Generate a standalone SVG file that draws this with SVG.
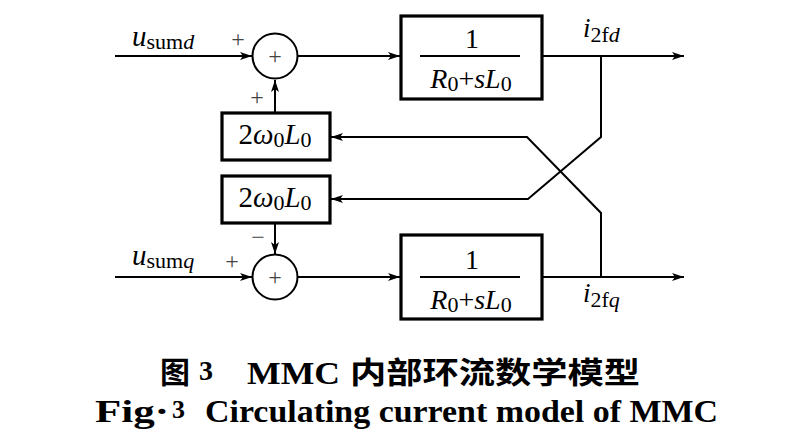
<svg xmlns="http://www.w3.org/2000/svg" width="810" height="448" viewBox="0 0 810 448">
<defs>
<marker id="ah" viewBox="0 0 12 8" refX="12" refY="4" markerWidth="12" markerHeight="8" markerUnits="userSpaceOnUse" orient="auto">
<path d="M0,0 L12,4 L0,8 L3,4 Z" fill="#000"/>
</marker>
</defs>
<style>
.ln{fill:none;stroke:#000;stroke-width:2}
.bx{fill:#fff;stroke:#000;stroke-width:3.2}
.sm{fill:#fff;stroke:#000;stroke-width:2}
text{font-family:'Liberation Serif','Times New Roman',serif;fill:#000}
.i{font-style:italic}
.sg{font-size:24px;fill:#444}
.cap{font-weight:bold}
.cjk{font-family:'Noto Sans CJK SC',sans-serif;font-weight:bold}
</style>
<rect width="810" height="448" fill="#fff"/>
<g id="connectors">
<path class="ln" d="M115,56 H252" marker-end="url(#ah)"/>
<path class="ln" d="M298,56 H400" marker-end="url(#ah)"/>
<path class="ln" d="M542,56 H684" marker-end="url(#ah)"/>
<path class="ln" d="M115,277 H252" marker-end="url(#ah)"/>
<path class="ln" d="M298,277 H400" marker-end="url(#ah)"/>
<path class="ln" d="M542,277 H684" marker-end="url(#ah)"/>
<path class="ln" d="M275,112 V80" marker-end="url(#ah)"/>
<path class="ln" d="M275,223 V254" marker-end="url(#ah)"/>
<path class="ln" d="M601,56 V137 L528,199 H331" marker-end="url(#ah)"/>
<path class="ln" d="M601,277 V213 L527,137 H331" marker-end="url(#ah)"/>
</g>
<g id="sum1">
<circle class="sm" cx="275" cy="56" r="22.5"/>
<text class="sg" x="275" y="64" text-anchor="middle">+</text>
</g>
<g id="sum2">
<circle class="sm" cx="275" cy="277" r="22.5"/>
<text class="sg" x="275" y="285" text-anchor="middle">+</text>
</g>
<g id="block1">
<rect class="bx" x="401" y="16" width="141" height="83"/>
<line class="ln" x1="420" y1="56" x2="520" y2="56"/>
<text x="472" y="48" font-size="28" text-anchor="middle">1</text>
<text x="471" y="88" font-size="28" text-anchor="middle"><tspan class="i">R</tspan><tspan font-size="22" dy="3">0</tspan><tspan dy="-3">+</tspan><tspan class="i">sL</tspan><tspan font-size="22" dy="3">0</tspan></text>
</g>
<g id="block2">
<rect class="bx" x="401" y="235" width="141" height="84"/>
<line class="ln" x1="420" y1="277" x2="520" y2="277"/>
<text x="472" y="269" font-size="28" text-anchor="middle">1</text>
<text x="471" y="309" font-size="28" text-anchor="middle"><tspan class="i">R</tspan><tspan font-size="22" dy="3">0</tspan><tspan dy="-3">+</tspan><tspan class="i">sL</tspan><tspan font-size="22" dy="3">0</tspan></text>
</g>
<g id="gain1">
<rect class="bx" x="222" y="113" width="108" height="47"/>
<text x="275" y="144" font-size="29" text-anchor="middle">2<tspan class="i">ω</tspan><tspan font-size="22" dy="3">0</tspan><tspan class="i" dy="-3">L</tspan><tspan font-size="22" dy="3">0</tspan></text>
</g>
<g id="gain2">
<rect class="bx" x="222" y="176" width="108" height="47"/>
<text x="275" y="207" font-size="29" text-anchor="middle">2<tspan class="i">ω</tspan><tspan font-size="22" dy="3">0</tspan><tspan class="i" dy="-3">L</tspan><tspan font-size="22" dy="3">0</tspan></text>
</g>
<g id="labels">
<text x="132" y="46" font-size="29"><tspan class="i">u</tspan><tspan font-size="22" dy="3">sum</tspan><tspan class="i" font-size="22">d</tspan></text>
<text x="132" y="265" font-size="29"><tspan class="i">u</tspan><tspan font-size="22" dy="3">sum</tspan><tspan class="i" font-size="22">q</tspan></text>
<text x="583" y="37" font-size="27"><tspan class="i">i</tspan><tspan font-size="22" dy="5">2f</tspan><tspan class="i" font-size="22">d</tspan></text>
<text x="583" y="302" font-size="27"><tspan class="i">i</tspan><tspan font-size="22" dy="5">2f</tspan><tspan class="i" font-size="22">q</tspan></text>
<text class="sg" x="238" y="47" text-anchor="middle">+</text>
<text class="sg" x="257" y="105" text-anchor="middle">+</text>
<text class="sg" x="258" y="245" text-anchor="middle">−</text>
<text class="sg" x="232" y="269" text-anchor="middle">+</text>
</g>
<g id="caption">
<text class="cjk" x="160" y="383" font-size="30">图</text>
<text class="cap" x="199" y="380" font-size="28">3</text>
<text class="cap" x="247" y="384" font-size="32" textLength="93" lengthAdjust="spacingAndGlyphs">MMC</text>
<text class="cjk" x="350" y="383" font-size="30" textLength="290" lengthAdjust="spacingAndGlyphs">内部环流数学模型</text>
<text class="cap" x="95" y="422" font-size="32" textLength="74" lengthAdjust="spacingAndGlyphs">Fig·</text>
<text class="cap" x="172" y="418" font-size="26">3</text>
<text class="cap" x="205" y="422" font-size="32" textLength="513" lengthAdjust="spacingAndGlyphs">Circulating current model of MMC</text>
</g>
</svg>
